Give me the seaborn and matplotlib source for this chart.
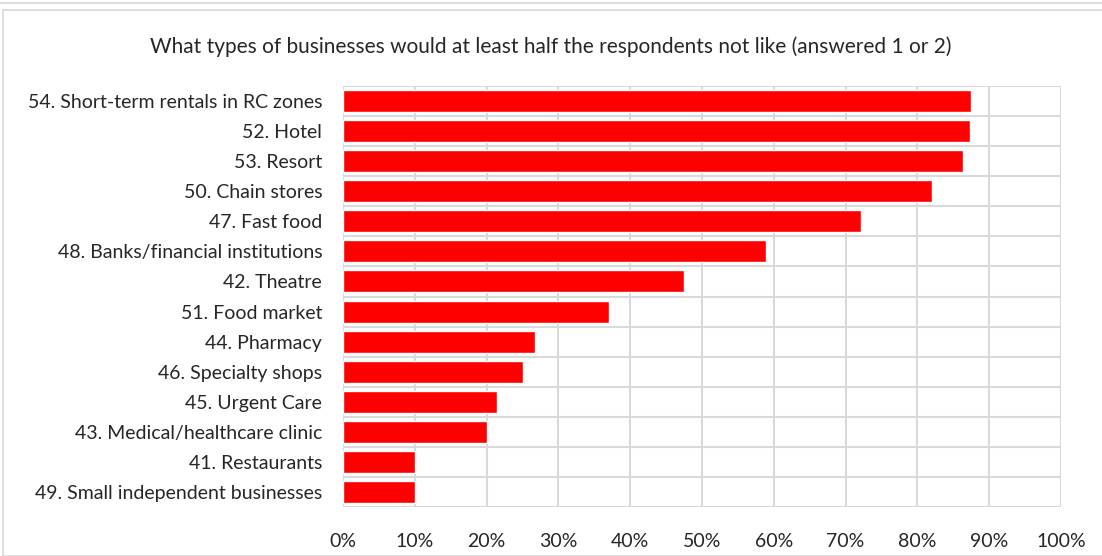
import matplotlib
matplotlib.use("Agg")
import matplotlib.pyplot as plt
import seaborn as sns
import pandas as pd
from matplotlib.ticker import PercentFormatter, MultipleLocator
from matplotlib.patches import Rectangle

categories = [
    "54. Short-term rentals in RC zones",
    "52. Hotel",
    "53. Resort",
    "50. Chain stores",
    "47. Fast food",
    "48. Banks/financial institutions",
    "42. Theatre",
    "51. Food market",
    "44. Pharmacy",
    "46. Specialty shops",
    "45. Urgent Care",
    "43. Medical/healthcare clinic",
    "41. Restaurants",
    "49. Small independent businesses",
]
values = [87.5, 87.3, 86.3, 82.0, 72.1, 58.9, 47.5, 37.1, 26.7, 25.0, 21.4, 20.1, 10.0, 10.0]
title = "What types of businesses would at least half the respondents not like (answered 1 or 2)"

df = pd.DataFrame({"cat": categories, "val": values})

sns.set_theme(style="white")
plt.rcParams["font.family"] = ["Lato", "DejaVu Sans"]

fig = plt.figure(figsize=(11.02, 5.56), dpi=100)
ax = fig.add_axes([343 / 1102, 1 - 507 / 556, (1061 - 343) / 1102, (507 - 86) / 556])

sns.barplot(data=df, y="cat", x="val", orient="h", color="#FF0000",
            saturation=1, width=0.73, ax=ax, zorder=3)

ax.set_xlim(0, 100)
ax.set_ylim(len(categories) - 0.5, -0.5)
ax.xaxis.set_major_locator(MultipleLocator(10))
ax.xaxis.set_major_formatter(PercentFormatter(decimals=0))
ax.set_yticks(range(len(categories)))
ax.set_yticks([i - 0.5 for i in range(len(categories) + 1)], minor=True)
ax.tick_params(axis="y", which="minor", length=0)
ax.tick_params(axis="both", which="major", length=0, labelsize=14, colors="#262626")
ax.tick_params(axis="x", pad=19)
ax.tick_params(axis="y", pad=15)
ax.grid(axis="x", which="major", color="#D9D9D9", linewidth=1.5, zorder=0)
ax.grid(axis="y", which="minor", color="#D9D9D9", linewidth=1.5, zorder=0)
ax.set_xlabel("")
ax.set_ylabel("")
for s in ax.spines.values():
    s.set_visible(False)

fig.text(0.5, 1 - 47 / 556, title, ha="center", va="center", fontsize=15, color="#262626")

fig.patches.append(Rectangle((3 / 1102, 0), 1.2, 1 - 10 / 556, transform=fig.transFigure,
                             fill=False, edgecolor="#D9D9D9", linewidth=1.2))
fig.lines.append(plt.Line2D([0, 1], [1 - 3 / 556, 1 - 3 / 556], transform=fig.transFigure,
                            color="#D9D9D9", linewidth=1.2))

fig.savefig("out.png", dpi=100)
